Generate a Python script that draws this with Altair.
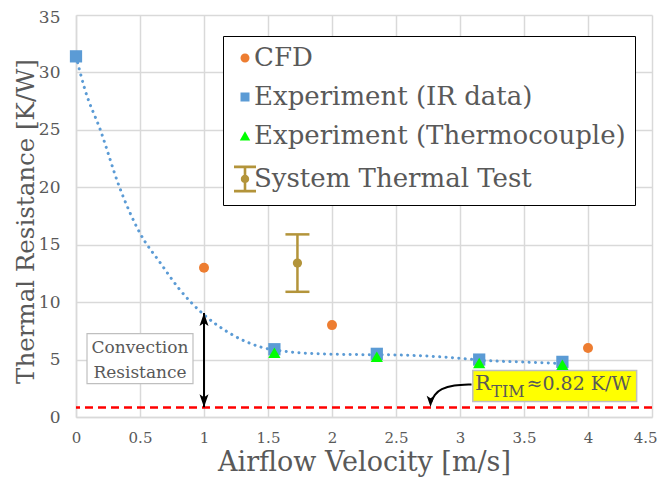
import altair as alt
import pandas as pd

FONT = "DejaVu Serif"
GREY = "#595959"
GRID = "#d9d9d9"

# ---- data ----
cfd_x = [1.0, 2.0, 4.0]
cfd_y = [13.0, 8.0, 6.0]

ir_x = [0.0, 1.55, 2.35, 3.15, 3.8]
ir_y = [31.4, 5.9, 5.5, 5.0, 4.8]

tc_x = [1.55, 2.35, 3.15, 3.8]
tc_y = [5.6, 5.25, 4.7, 4.55]

sys_x = [1.73]
sys_y = [13.4]
sys_lo = [10.9]
sys_hi = [15.9]

trend_x = [0.0, 0.07, 0.19, 0.34, 0.5, 0.66, 0.81, 0.99, 1.2, 1.44, 1.65, 1.9, 2.22, 2.53, 2.9, 3.23, 3.5, 3.8]
trend_y = [31.4, 28.5, 25.0, 20.0, 16.0, 13.4, 11.1, 9.0, 7.3, 6.1, 5.7, 5.5, 5.43, 5.4, 5.2, 4.9, 4.78, 4.65]

r_tim = 0.82

legend_labels = ["CFD", "Experiment (IR data)", "Experiment (Thermocouple)", "System Thermal Test"]
legend_colors = ["#ed7d31", "#5b9bd5", "#00ff00", "#b3943a"]

x_ticks = [0, 0.5, 1, 1.5, 2, 2.5, 3, 3.5, 4, 4.5]
y_ticks = [0, 5, 10, 15, 20, 25, 30, 35]

# annotation anchors (data units)
conv_box = {"x": [0.086], "x2": [0.914], "y": [7.26], "y2": [2.91]}
conv_text = {"x": [0.5, 0.5], "y": [6.0, 3.85], "t": ["Convection", "Resistance"]}
conv_arrow = {"x": [1.0], "lo": [0.85], "hi": [9.05]}
rtim_box = {"x": [3.10], "x2": [4.38], "y": [4.04], "y2": [1.35]}
rtim_curve_x = [3.09, 2.95, 2.85, 2.8, 2.775]
rtim_curve_y = [2.83, 2.78, 2.45, 1.95, 1.3]
rtim_tip = {"x": [2.77], "y": [0.87]}

# ---- symbol paths (legend unit = 10 px) ----
circle_p = "M0.45,0A0.45,0.45 0 1,1 -0.45,0A0.45,0.45 0 1,1 0.45,0Z"
square_p = "M-0.45,-0.45H0.45V0.45H-0.45Z"
tri_p = "M0,-0.47L0.52,0.45H-0.52Z"
errbar_p = ("M-1.1,-1.35H1.1V-1.08H-1.1Z M-1.1,1.08H1.1V1.35H-1.1Z M-0.13,-1.35H0.13V1.35H-0.13Z "
            "M0.42,0A0.42,0.42 0 1,1 -0.42,0A0.42,0.42 0 1,1 0.42,0Z")
legend_paths = [circle_p, square_p, tri_p, errbar_p]
arrow_up = "M0,0L0.45,1.3L0,1.0L-0.45,1.3Z"
arrow_down = "M0,0L0.45,-1.3L0,-1.0L-0.45,-1.3Z"

W, H = 576, 402

xs = alt.Scale(domain=[0, 4.5], nice=False, zero=False)
ys = alt.Scale(domain=[0, 35], nice=False, zero=False)

xax = alt.Axis(title="Airflow Velocity [m/s]", values=x_ticks, format="~g", grid=True, ticks=False,
               domainColor=GRID, domainWidth=1.5, gridColor=GRID, gridWidth=1.5,
               labelFont=FONT, labelFontSize=15, labelColor=GREY, labelPadding=13,
               labelAlign=alt.condition("datum.value == 4.5", alt.value("right"), alt.value("center")),
               labelOffset=alt.condition("datum.value == 4.5", alt.value(5), alt.value(0)),
               titleFont=FONT, titleFontSize=27, titleColor=GREY, titleFontWeight="normal",
               titleY=53, titleBaseline="alphabetic", titleAlign="center")
yax = alt.Axis(title="Thermal Resistance [K/W]", values=y_ticks, format="~g", grid=True, ticks=False,
               domainColor=GRID, domainWidth=1.5, gridColor=GRID, gridWidth=1.5,
               labelFont=FONT, labelFontSize=17, labelColor=GREY, labelPadding=16,
               labelOffset=alt.condition("datum.value == 35", alt.value(2), alt.value(0)),
               titleFont=FONT, titleFontSize=24.5, titleColor=GREY, titleFontWeight="normal",
               titleX=-43, titleY=206, titleAngle=270, titleBaseline="alphabetic", titleAlign="center")


def X(f="x"):
    return alt.X(f"{f}:Q", scale=xs, axis=xax)


def Y(f="y"):
    return alt.Y(f"{f}:Q", scale=ys, axis=yax)


df_cfd = pd.DataFrame({"x": cfd_x, "y": cfd_y})
df_ir = pd.DataFrame({"x": ir_x, "y": ir_y})
df_tc = pd.DataFrame({"x": tc_x, "y": tc_y})
df_sys = pd.DataFrame({"x": sys_x, "y": sys_y, "lo": sys_lo, "hi": sys_hi})
df_trend = pd.DataFrame({"x": trend_x, "y": trend_y})
df_rtim = pd.DataFrame({"y": [r_tim]})

rtim_line = alt.Chart(df_rtim).mark_rule(color="#ff0000", strokeWidth=2.5, strokeDash=[8, 5]).encode(y=Y())

trend = alt.Chart(df_trend).mark_line(color="#5b9bd5", strokeWidth=3, strokeDash=[0.1, 6.3],
                                      strokeCap="round", interpolate="monotone").encode(x=X(), y=Y())

cbox = alt.Chart(pd.DataFrame(conv_box)).mark_rect(fill="white", stroke="#bfbfbf", strokeWidth=1.2).encode(
    x=X(), x2="x2:Q", y=Y(), y2="y2:Q")
ctext = alt.Chart(pd.DataFrame(conv_text)).mark_text(font=FONT, fontSize=17, color=GREY, baseline="middle").encode(
    x=X(), y=Y(), text="t:N")

df_ca = pd.DataFrame(conv_arrow)
carrow = alt.Chart(df_ca).mark_rule(color="black", strokeWidth=2).encode(x=X(), y=Y("lo"), y2="hi:Q")
chead_up = alt.Chart(df_ca).mark_point(shape=arrow_up, filled=True, color="black", size=400, opacity=1).encode(
    x=X(), y=Y("hi"))
chead_dn = alt.Chart(df_ca).mark_point(shape=arrow_down, filled=True, color="black", size=400, opacity=1).encode(
    x=X(), y=Y("lo"))

rcurve = alt.Chart(pd.DataFrame({"x": rtim_curve_x, "y": rtim_curve_y, "o": list(range(len(rtim_curve_x)))})).mark_line(
    color="black", strokeWidth=2, interpolate="basis").encode(x=X(), y=Y(), order="o:Q")
rhead = alt.Chart(pd.DataFrame(rtim_tip)).mark_point(shape=arrow_down, filled=True, color="black", size=300,
                                                     opacity=1).encode(x=X(), y=Y())
rbox = alt.Chart(pd.DataFrame(rtim_box)).mark_rect(fill="#ffff00", stroke="#bfbfbf", strokeWidth=1.5).encode(
    x=X(), x2="x2:Q", y=Y(), y2="y2:Q")
rt_main = alt.Chart(pd.DataFrame({"x": [3.117], "y": [2.39], "t": ["R"]})).mark_text(
    font=FONT, fontSize=21, color=GREY, align="left", baseline="alphabetic").encode(x=X(), y=Y(), text="t:N")
rt_sub = alt.Chart(pd.DataFrame({"x": [3.245], "y": [1.78], "t": ["TIM"]})).mark_text(
    font=FONT, fontSize=16, color=GREY, align="left", baseline="alphabetic").encode(x=X(), y=Y(), text="t:N")
rt_val = alt.Chart(pd.DataFrame({"x": [3.52], "y": [2.39], "t": ["≈0.82 K/W"]})).mark_text(
    font=FONT, fontSize=19, color=GREY, align="left", baseline="alphabetic").encode(x=X(), y=Y(), text="t:N")

p_ir = alt.Chart(df_ir).mark_point(shape="square", filled=True, color="#5b9bd5", size=150, opacity=1).encode(x=X(), y=Y())
p_tc = alt.Chart(df_tc).mark_point(shape="triangle-up", filled=True, color="#00ff00", size=150, opacity=1).encode(x=X(), y=Y())
p_cfd = alt.Chart(df_cfd).mark_point(shape="circle", filled=True, color="#ed7d31", size=100, opacity=1).encode(x=X(), y=Y())

s_rule = alt.Chart(df_sys).mark_rule(color="#b3943a", strokeWidth=2.5).encode(x=X(), y=Y("lo"), y2="hi:Q")
s_cap_hi = alt.Chart(df_sys).mark_tick(color="#b3943a", orient="horizontal", size=24, thickness=2.5, opacity=1).encode(x=X(), y=Y("hi"))
s_cap_lo = alt.Chart(df_sys).mark_tick(color="#b3943a", orient="horizontal", size=24, thickness=2.5, opacity=1).encode(x=X(), y=Y("lo"))
s_pt = alt.Chart(df_sys).mark_point(shape="circle", filled=True, color="#b3943a", size=85, opacity=1).encode(x=X(), y=Y())

leg = alt.Legend(title=None, orient="none", legendX=147, legendY=21, fillColor="white", strokeColor="black",
                 padding=9, labelFont=FONT, labelFontSize=26, labelColor=GREY, labelLimit=600,
                 symbolSize=400, rowPadding=13, labelOffset={"expr": "-4"}, symbolOpacity=1)
leg_df = pd.DataFrame({"entry": legend_labels})
legend_layer = alt.Chart(leg_df).mark_point(filled=True, opacity=0).encode(
    fill=alt.Fill("entry:N", scale=alt.Scale(domain=legend_labels, range=legend_colors), legend=leg, sort=None),
    shape=alt.Shape("entry:N", scale=alt.Scale(domain=legend_labels, range=legend_paths), legend=leg, sort=None),
)

chart = alt.layer(
    rtim_line, trend, cbox, ctext, carrow, chead_up, chead_dn,
    rcurve, rhead, rbox, rt_main, rt_sub, rt_val,
    p_ir, p_tc, p_cfd, s_rule, s_cap_hi, s_cap_lo, s_pt, legend_layer
).properties(
    width=W, height=H,
    padding={"left": 68, "top": 7, "right": 5, "bottom": 60},
    autosize=alt.AutoSizeParams(type="none"),
    background="white",
).configure_view(stroke=None)

chart.save("out.html", embed_options={"renderer": "svg", "actions": False})
